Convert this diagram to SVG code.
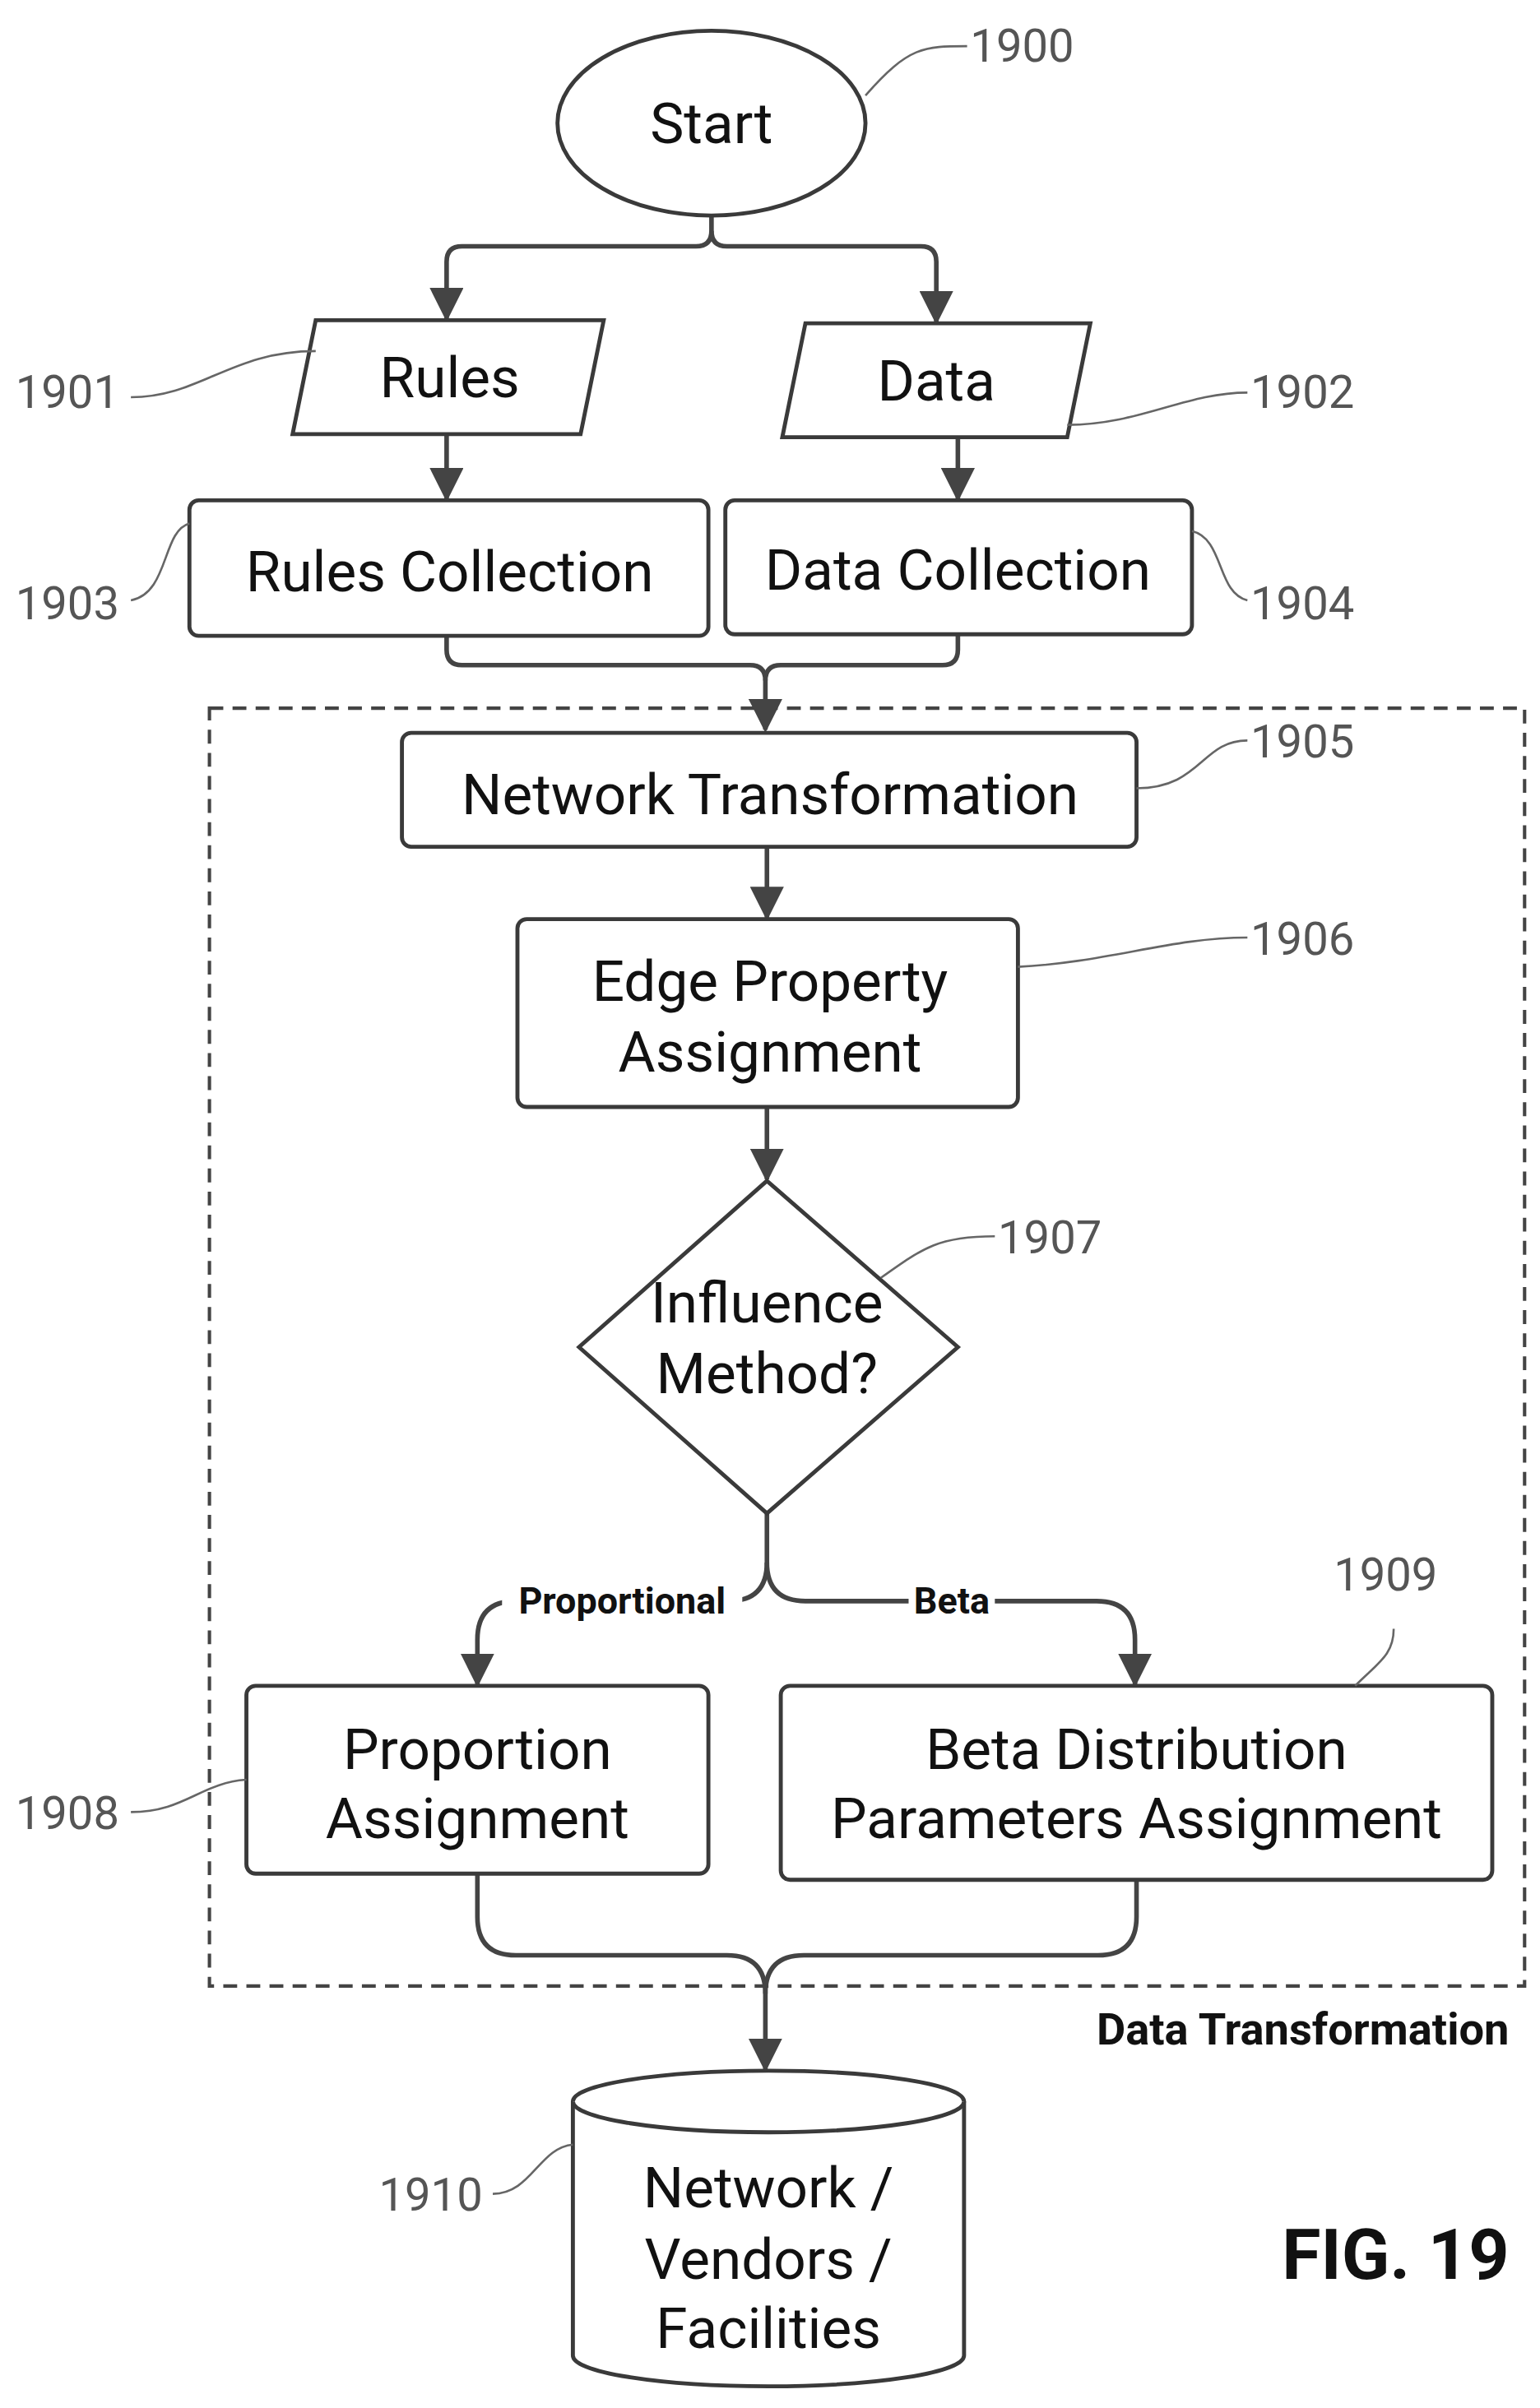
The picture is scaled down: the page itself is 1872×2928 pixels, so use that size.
<svg xmlns="http://www.w3.org/2000/svg" width="1872" height="2928" viewBox="0 0 1872 2928">
<style>
.n{fill:#fff;stroke:#3a3a3a;stroke-width:2.6}
.t{font-family:Roboto,"Liberation Sans",sans-serif;font-size:37px;fill:#111;text-anchor:middle}
.r{font-family:Roboto,"Liberation Sans",sans-serif;font-size:30px;fill:#555}
.c{fill:none;stroke:#444;stroke-width:3}
.l{fill:none;stroke:#666;stroke-width:1.4}
.b{font-family:Roboto,"Liberation Sans",sans-serif;font-weight:bold;fill:#111}
</style>
<defs><marker id="a" markerUnits="userSpaceOnUse" markerWidth="22" markerHeight="22" refX="20" refY="11" orient="auto" viewBox="0 0 22 22"><path d="M0,0 L22,11 L0,22 Z" fill="#444"/></marker></defs>
<rect width="1872" height="2928" fill="#fff"/>
<g transform="scale(1.872)">
<rect x="136" y="460" width="854" height="830" fill="none" stroke="#444" stroke-width="2.2" stroke-dasharray="9,6"/>
<g id="connectors">
<path class="c" d="M462,140 V150 Q462,160 452,160 H300 Q290,160 290,170 V207" marker-end="url(#a)"/>
<path class="c" d="M462,150 Q462,160 472,160 H598 Q608,160 608,170 V209" marker-end="url(#a)"/>
<path class="c" d="M290,282 V324" marker-end="url(#a)"/>
<path class="c" d="M622,284 V324" marker-end="url(#a)"/>
<path class="c" d="M290,413 V422 Q290,432 300,432 H487 Q497,432 497,442 V474" marker-end="url(#a)"/>
<path class="c" d="M622,412 V422 Q622,432 612,432 H507 Q497,432 497,442"/>
<path class="c" d="M498,550 V596" marker-end="url(#a)"/>
<path class="c" d="M498,719 V766" marker-end="url(#a)"/>
<path class="c" d="M498,983 V1015 Q498,1040 473,1040 H335 Q310,1040 310,1065 V1094" marker-end="url(#a)"/>
<path class="c" d="M498,1015 Q498,1040 523,1040 H712 Q737,1040 737,1065 V1094" marker-end="url(#a)"/>
<path class="c" d="M310,1217 V1245 Q310,1270 335,1270 H472 Q497,1270 497,1295 V1344" marker-end="url(#a)"/>
<path class="c" d="M738,1221 V1245 Q738,1270 713,1270 H522 Q497,1270 497,1295"/>
<rect x="326" y="1026" width="156" height="28" fill="#fff"/>
<text x="404" y="1048" class="b" font-size="24" text-anchor="middle" fill="#444">Proportional</text>
<rect x="590" y="1026" width="56" height="28" fill="#fff"/>
<text x="618" y="1048" class="b" font-size="24" text-anchor="middle" fill="#444">Beta</text>
</g>
<g id="n1900"><ellipse class="n" cx="462" cy="80" rx="100" ry="60"/><text class="t" x="462" y="93">Start</text>
<path class="l" d="M562,62 C590,30 600,30 628,30"/><text class="r" x="630" y="40">1900</text></g>
<g id="n1901"><polygon class="n" points="205,208 392,208 377,282 190,282"/><text class="t" x="292" y="258">Rules</text>
<path class="l" d="M85,258 C130,258 150,228 205,228"/><text class="r" x="10" y="265">1901</text></g>
<g id="n1902"><polygon class="n" points="523,210 708,210 693,284 508,284"/><text class="t" x="608" y="260">Data</text>
<path class="l" d="M693,276 C740,276 770,255 810,255"/><text class="r" x="812" y="265">1902</text></g>
<g id="n1903"><rect class="n" x="123" y="325" width="337" height="88" rx="6"/><text class="t" x="292" y="384">Rules Collection</text>
<path class="l" d="M85,390 C110,385 105,345 123,340"/><text class="r" x="10" y="402">1903</text></g>
<g id="n1904"><rect class="n" x="471" y="325" width="303" height="87" rx="6"/><text class="t" x="622" y="383">Data Collection</text>
<path class="l" d="M774,345 C795,350 790,385 810,390"/><text class="r" x="812" y="402">1904</text></g>
<g id="n1905"><rect class="n" x="261" y="476" width="477" height="74" rx="6"/><text class="t" x="500" y="529">Network Transformation</text>
<path class="l" d="M738,512 C780,512 780,481 810,481"/><text class="r" x="812" y="492">1905</text></g>
<g id="n1906"><rect class="n" x="336" y="597" width="325" height="122" rx="6"/><text class="t" x="500" y="650">Edge Property</text><text class="t" x="500" y="696">Assignment</text>
<path class="l" d="M661,628 C720,625 760,609 810,609"/><text class="r" x="812" y="620">1906</text></g>
<g id="n1907"><polygon class="n" points="498,767 622,875 498,983 376,875"/><text class="t" x="498" y="859">Influence</text><text class="t" x="498" y="905">Method?</text>
<path class="l" d="M572,830 C600,810 610,803 646,803"/><text class="r" x="648" y="814">1907</text></g>
<g id="n1908"><rect class="n" x="160" y="1095" width="300" height="122" rx="6"/><text class="t" x="310" y="1149">Proportion</text><text class="t" x="310" y="1194">Assignment</text>
<path class="l" d="M85,1177 C120,1177 130,1158 160,1156"/><text class="r" x="10" y="1188">1908</text></g>
<g id="n1909"><rect class="n" x="507" y="1095" width="462" height="126" rx="6"/><text class="t" x="738" y="1149">Beta Distribution</text><text class="t" x="738" y="1194">Parameters Assignment</text>
<path class="l" d="M880,1095 C895,1080 905,1075 905,1058"/><text class="r" x="866" y="1033">1909</text></g>
<g id="n1910"><path class="n" d="M372,1365 A127,20 0 0 1 626,1365 V1530 A127,20 0 0 1 372,1530 Z"/><path class="n" d="M372,1365 A127,20 0 0 0 626,1365"/>
<text class="t" x="499" y="1434">Network /</text><text class="t" x="499" y="1480">Vendors /</text><text class="t" x="499" y="1525">Facilities</text>
<path class="l" d="M320,1425 C345,1425 350,1395 372,1393"/><text class="r" x="246" y="1436">1910</text></g>
<text class="b" x="980" y="1328" font-size="29" text-anchor="end">Data Transformation</text>
<text class="b" x="980" y="1480" font-size="46" text-anchor="end">FIG. 19</text>
</g>
</svg>
